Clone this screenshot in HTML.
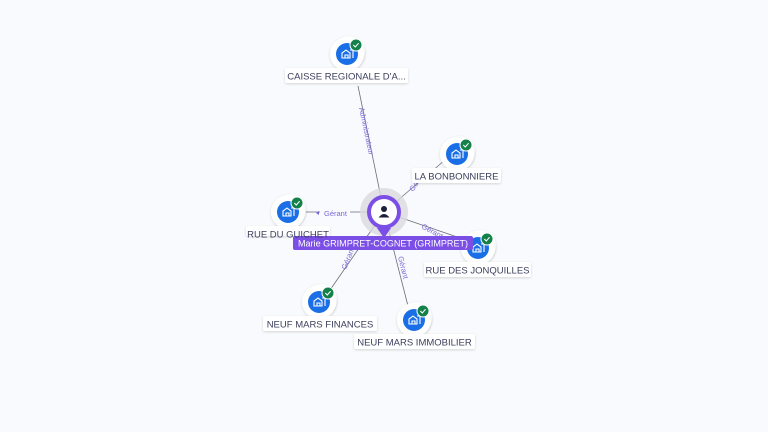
<!DOCTYPE html>
<html><head><meta charset="utf-8"><style>
html,body{margin:0;padding:0;background:#f8fafd;}
svg{display:block;font-family:"Liberation Sans",sans-serif;}
.lbl{font-size:9.5px;fill:#3b3f5c;}
.el{font-size:7.5px;fill:#7b68d8;}
</style></head><body>
<svg width="768" height="432" viewBox="0 0 768 432">
<defs>
<filter id="sh" x="-30%" y="-30%" width="160%" height="160%"><feDropShadow dx="0" dy="1" stdDeviation="1.2" flood-color="#000" flood-opacity="0.15"/></filter>
<g id="co">
<circle cx="2" cy="-2" r="16" fill="#fff" filter="url(#sh)"/>
<circle cx="0" cy="0" r="17" fill="#fff" filter="url(#sh)"/>
<circle cx="0" cy="0" r="11" fill="#1a6fe6"/>
<path d="M-5 4 V-1 L-1 -4 L3 -1 V4 Z M-2 4 V1 H1 V4 M3 -4 H6 V4" fill="none" stroke="#fff" stroke-width="1.1"/>
<circle cx="9" cy="-9" r="6" fill="#14804a" stroke="#fff" stroke-width="1"/>
<path d="M6.3 -9 L8.3 -7 L11.6 -10.8" fill="none" stroke="#fff" stroke-width="1.1"/>
</g>
</defs>
<g stroke="#6a6c7c" stroke-width="0.8" fill="none">
<line x1="384" y1="212" x2="358" y2="86"/>
<line x1="384" y1="212" x2="445" y2="160"/>
<line x1="384" y1="212" x2="305" y2="212"/>
<line x1="384" y1="212" x2="466" y2="240"/>
<line x1="384" y1="212" x2="330" y2="290"/>
<line x1="384" y1="212" x2="408" y2="306"/>
</g>
<rect x="320" y="208" width="30" height="9" fill="#f8fafd"/>
<text class="el" x="324" y="216">Gérant</text>
<path d="M316 213 l3 -2 v4z" fill="#7b68d8"/>
<text class="el" transform="translate(359,108) rotate(78)">Administrateur</text>
<text class="el" transform="translate(413,192) rotate(-55)">Gérant</text>
<text class="el" transform="translate(421,228) rotate(28)">Gérant</text>
<text class="el" transform="translate(346,270) rotate(-68)">Gérant</text>
<text class="el" transform="translate(398,257) rotate(76)">Gérant</text>
<circle cx="384" cy="212" r="24" fill="#d9dadf" opacity="0.8"/>
<path d="M384 238 l-7 -10 h14z" fill="#7b4ee6"/>
<circle cx="384" cy="212" r="15" fill="#fff" stroke="#7b4ee6" stroke-width="4"/>
<circle cx="384" cy="209" r="3" fill="#1c1f3a"/>
<path d="M378.5 217.5 q5.5 -7 11 0z" fill="#1c1f3a"/>
<use href="#co" x="347" y="54"/>
<use href="#co" x="457" y="154"/>
<use href="#co" x="288" y="212"/>
<use href="#co" x="478" y="248"/>
<use href="#co" x="319" y="302"/>
<use href="#co" x="414" y="320"/>
<g filter="url(#sh)" fill="#fff">
<rect x="285" y="68" width="123" height="15" rx="2"/>
<rect x="412" y="168" width="89" height="15" rx="2"/>
<rect x="246" y="226" width="84" height="10" rx="2"/>
<rect x="424" y="262" width="107" height="15" rx="2"/>
<rect x="263" y="316" width="114" height="15" rx="2"/>
<rect x="354" y="334" width="121" height="15" rx="2"/>
</g>
<rect x="293" y="236" width="180" height="14" rx="2" fill="#7b4ee6"/>
<text x="383" y="246.5" text-anchor="middle" style="font-size:9.5px" fill="#fff" textLength="170" lengthAdjust="spacingAndGlyphs">Marie GRIMPRET-COGNET (GRIMPRET)</text>
<text class="lbl" x="346.5" y="79.5" text-anchor="middle">CAISSE REGIONALE D'A...</text>
<text class="lbl" x="456.5" y="179.5" text-anchor="middle">LA BONBONNIERE</text>
<text class="lbl" x="288" y="237.5" text-anchor="middle">RUE DU GUICHET</text>
<text class="lbl" x="477.5" y="273.5" text-anchor="middle">RUE DES JONQUILLES</text>
<text class="lbl" x="320" y="327.5" text-anchor="middle">NEUF MARS FINANCES</text>
<text class="lbl" x="414.5" y="345.5" text-anchor="middle">NEUF MARS IMMOBILIER</text>
</svg>
</body></html>
